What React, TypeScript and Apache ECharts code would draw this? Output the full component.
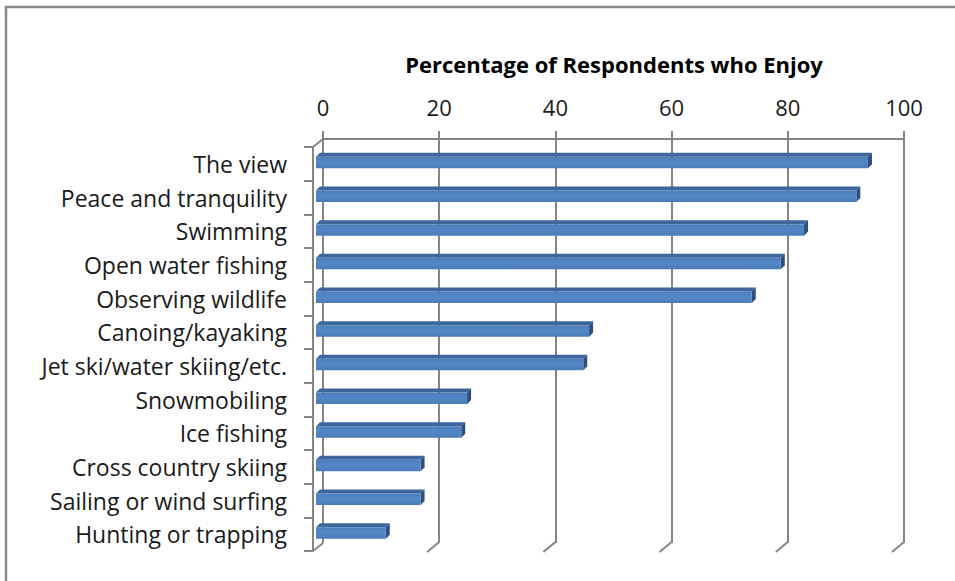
import React, { useEffect, useRef } from 'react';
import * as echarts from 'echarts';

const categories = [
  'The view',
  'Peace and tranquility',
  'Swimming',
  'Open water fishing',
  'Observing wildlife',
  'Canoing/kayaking',
  'Jet ski/water skiing/etc.',
  'Snowmobiling',
  'Ice fishing',
  'Cross country skiing',
  'Sailing or wind surfing',
  'Hunting or trapping',
];
const values = [95, 93, 84, 80, 75, 47, 46, 26, 25, 18, 18, 12];
const tickValues = [0, 20, 40, 60, 80, 100];
const titleText = 'Percentage of Respondents who Enjoy';

const FONT = 'Open Sans';
const GRID_COLOR = '#858585';

export default function App() {
  const ref = useRef<HTMLDivElement>(null);
  useEffect(() => {
    if (!ref.current) return;
    const chart = echarts.init(ref.current, undefined, { renderer: 'svg' });
    const lineStyle = { color: GRID_COLOR, width: 2 };
    const option: any = {
      animation: false,
      backgroundColor: '#fff',
      grid: [
        { left: 323, top: 139, width: 581, height: 404 },
        { left: 313, top: 147, width: 581, height: 404 },
      ],
      xAxis: [
        {
          gridIndex: 0,
          type: 'value',
          position: 'top',
          min: 0,
          max: 100,
          interval: 20,
          axisLine: { show: true, lineStyle },
          axisTick: { show: true, length: 8, lineStyle },
          axisLabel: { fontSize: 22, color: '#1a1a1a', fontFamily: FONT, margin: 21 },
          splitLine: { show: true, lineStyle },
        },
        { gridIndex: 1, type: 'value', min: 0, max: 100, show: false },
      ],
      yAxis: [
        { gridIndex: 0, type: 'category', data: categories, inverse: true, show: false },
        {
          gridIndex: 1,
          type: 'category',
          data: categories,
          inverse: true,
          axisLine: { show: true, lineStyle },
          axisTick: { show: true, length: 9, lineStyle },
          axisLabel: { fontSize: 23, color: '#1a1a1a', fontFamily: FONT, margin: 26 },
          splitLine: { show: false },
        },
      ],
      graphic: [
        {
          type: 'rect',
          shape: { x: 6, y: 7, width: 1200, height: 1000 },
          style: { fill: 'none', stroke: '#8a8a8a', lineWidth: 2.5 },
          silent: true,
        },
        {
          type: 'text',
          x: 614,
          y: 64,
          style: {
            text: titleText,
            fontSize: 22,
            fontWeight: 'bold',
            fontFamily: FONT,
            fill: '#000',
            align: 'center',
            verticalAlign: 'middle',
          },
        },
      ],
      series: [
        {
          type: 'custom',
          name: 'floor',
          xAxisIndex: 0,
          yAxisIndex: 0,
          clip: false,
          silent: true,
          data: tickValues.map((t) => [t, 0]),
          renderItem: (params: any, api: any) => {
            const v = api.value(0);
            const x = api.coord([v, 0])[0];
            const cs = params.coordSys;
            const bottom = cs.y + cs.height;
            const children: any[] = [];
            if (v === 0) {
              children.push({
                type: 'line',
                shape: { x1: x, y1: bottom, x2: x - 10, y2: bottom + 8 },
                style: { stroke: GRID_COLOR, lineWidth: 2 },
              });
              children.push({
                type: 'line',
                shape: { x1: x, y1: cs.y, x2: x - 10, y2: cs.y + 8 },
                style: { stroke: GRID_COLOR, lineWidth: 2 },
              });
            } else {
              children.push({
                type: 'line',
                shape: { x1: x, y1: bottom - 1, x2: x - 12, y2: bottom + 9 },
                style: { stroke: GRID_COLOR, lineWidth: 2 },
              });
            }
            return { type: 'group', children };
          },
        },
        {
          type: 'custom',
          name: 'bars',
          xAxisIndex: 0,
          yAxisIndex: 0,
          clip: false,
          data: values.map((v, i) => [v, i]),
          renderItem: (params: any, api: any) => {
            const v = api.value(0);
            const i = api.value(1);
            const pEnd = api.coord([v, i]);
            const pStart = api.coord([0, i]);
            const c = pEnd[1];
            const fx0 = pStart[0] - 7;
            const fx1 = pEnd[0] - 7;
            const fy0 = c + 1;
            const fy1 = c + 12.5;
            const d = 4;
            return {
              type: 'group',
              children: [
                {
                  type: 'polygon',
                  shape: {
                    points: [
                      [fx0, fy0],
                      [fx1, fy0],
                      [fx1 + d, fy0 - d],
                      [fx0 + d, fy0 - d],
                    ],
                  },
                  style: { fill: '#3d669c' },
                },
                {
                  type: 'polygon',
                  shape: {
                    points: [
                      [fx1, fy0],
                      [fx1 + d, fy0 - d],
                      [fx1 + d, fy1 - d],
                      [fx1, fy1],
                    ],
                  },
                  style: { fill: '#2c4f7e' },
                },
                {
                  type: 'rect',
                  shape: { x: fx0, y: fy0, width: fx1 - fx0, height: fy1 - fy0 },
                  style: {
                    fill: new echarts.graphic.LinearGradient(0, 0, 0, 1, [
                      { offset: 0, color: '#4d7fbd' },
                      { offset: 0.5, color: '#5387c5' },
                      { offset: 1, color: '#4b7cb8' },
                    ]),
                  },
                },
              ],
            };
          },
        },
      ],
    };
    chart.setOption(option);
    return () => chart.dispose();
  }, []);
  return (
    <div
      ref={ref}
      style={{ position: 'fixed', left: 0, top: 0, width: 955, height: 581 }}
    />
  );
}
